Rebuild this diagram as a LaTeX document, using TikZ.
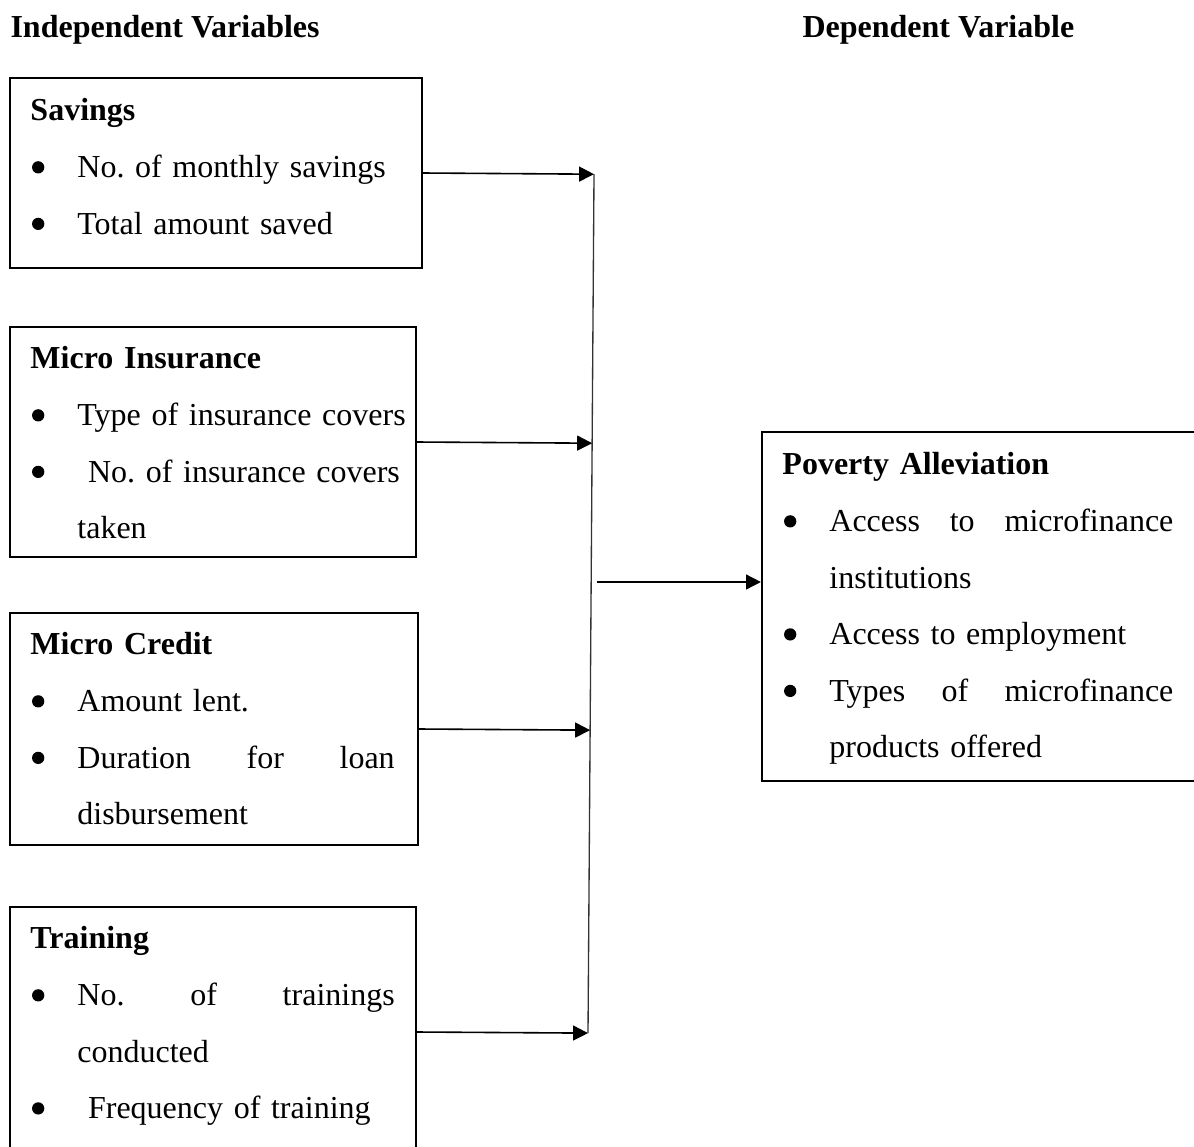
\documentclass[tikz,border=0pt]{standalone}
\usepackage{fontspec}
\setmainfont{Liberation Serif}
\usetikzlibrary{arrows.meta,fit,calc}

\newcommand{\dotmark}{\tikz[baseline=-3.8pt]\fill (0,0) circle (2.3pt);}
\newcommand{\itm}[1]{\makebox[17.6pt][l]{\hspace{0.6pt}\dotmark}#1}
\newcommand{\cont}[1]{\hspace*{17.6pt}#1}
\newcommand{\spread}[2]{\hbox to #1{#2}}

\begin{document}
\frenchspacing
\begin{tikzpicture}[
  x=0.375pt, y=-0.375pt,
  font=\fontsize{12pt}{21.2pt}\selectfont,
  box/.style={draw, line width=0.8pt, inner sep=0pt},
  txt/.style={anchor=base west, inner sep=0pt, text width=160pt, align=left},
  hdr/.style={anchor=base west, inner sep=0pt, font=\fontsize{12pt}{14pt}\selectfont\bfseries},
  link/.style={-{Triangle[length=5.6pt,width=5.6pt]}, line width=0.6pt},
  bus/.style={line width=0.5pt, black!80}
]
\useasboundingbox (0,0) rectangle (1194,1147);

% column headings
\node[hdr] (indep) at (10,37) {Independent Variables};
\node[hdr] (dep) at (802,37) {Dependent Variable};

% independent variables
\node[box, fit={(10,78) (422,268)}] (sav) {};
\node[txt] (sav-txt) at ([shift={(21,44)}]sav.north west)
  {\textbf{Savings}\\
   \itm{No. of monthly savings}\\
   \itm{Total amount saved}};

\node[box, fit={(10,327) (416,557)}] (ins) {};
\node[txt] (ins-txt) at ([shift={(21,43)}]ins.north west)
  {\textbf{Micro Insurance}\\
   \itm{Type of insurance covers}\\
   \itm{\ No. of insurance covers}\\
   \cont{taken}};

\node[box, fit={(10,613) (418,845)}] (cred) {};
\node[txt] (cred-txt) at ([shift={(21,43)}]cred.north west)
  {\textbf{Micro Credit}\\
   \itm{Amount lent.}\\
   \itm{\spread{119pt}{Duration\hfill for\hfill loan}}\\
   \cont{disbursement}};

\node[box, fit={(10,907) (416,1157)}] (train) {};
\node[txt] (train-txt) at ([shift={(21,43)}]train.north west)
  {\textbf{Training}\\
   \itm{\spread{119pt}{No.\hfill of\hfill trainings}}\\
   \cont{conducted}\\
   \itm{\ Frequency of training}};

% dependent variable
\node[box, fit={(762,432) (1210,781)}] (pov) {};
\node[txt] (pov-txt) at ([shift={(21,44)}]pov.north west)
  {\textbf{Poverty Alleviation}\\
   \itm{\spread{129pt}{Access\hfill to\hfill microfinance}}\\
   \cont{institutions}\\
   \itm{Access to employment}\\
   \itm{\spread{129pt}{Types\hfill of\hfill microfinance}}\\
   \cont{products offered}};

% connectors
\coordinate (jtop) at (594,176);
\coordinate (jbot) at (588,1032);
\coordinate (j1) at ($(jtop)!(sav.east)!(jbot)$);
\coordinate (j2) at ($(jtop)!(ins.east)!(jbot)$);
\coordinate (j3) at ($(jtop)!(cred.east)!(jbot)$);
\coordinate (j4) at ($(jtop)!(train.east)!(jbot)$);
\draw[bus] (j1) -- (j4);
\draw[link] (sav.east) -- (j1);
\draw[link] (ins.east) -- (j2);
\draw[link] (cred.east) -- (j3);
\draw[link] (train.east) -- (j4);
\coordinate (hub) at (597,582);
\draw[link] (hub) -- (hub -| pov.west);
\end{tikzpicture}
\end{document}
